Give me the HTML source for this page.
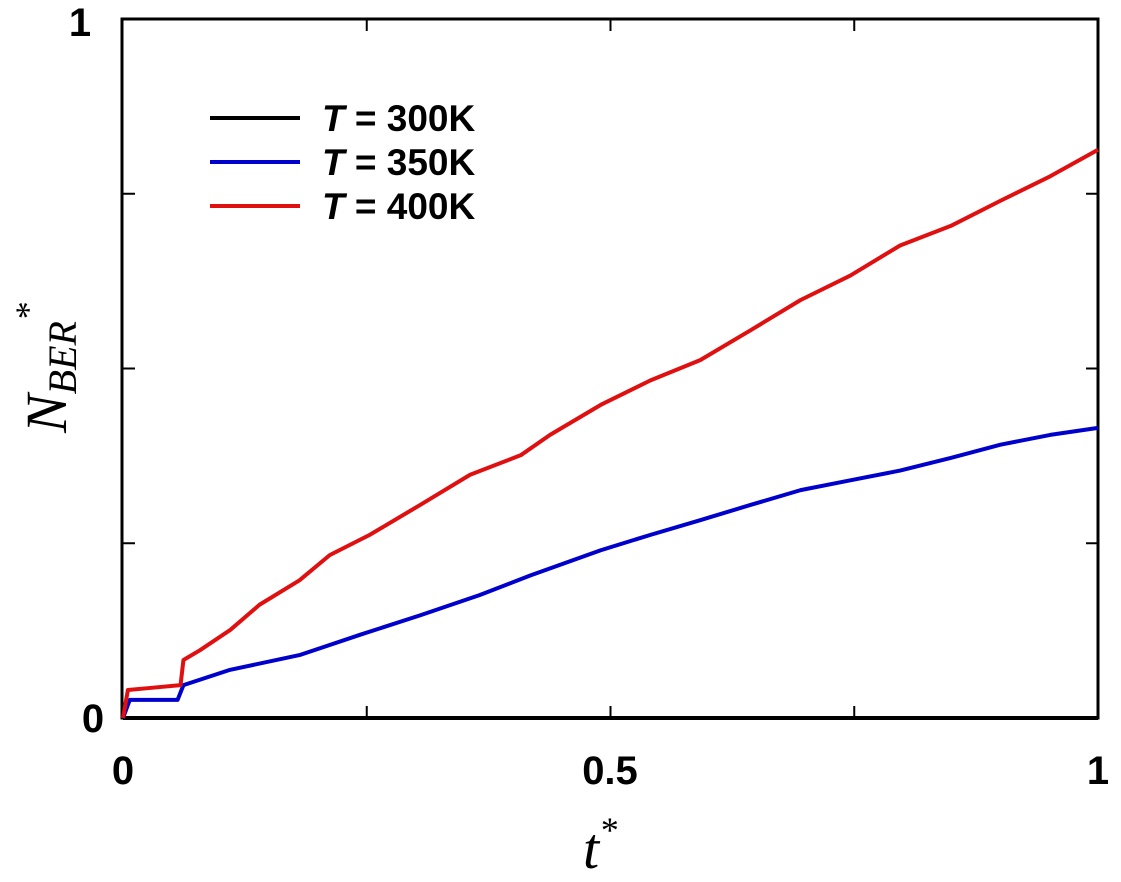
<!DOCTYPE html>
<html><head><meta charset="utf-8"><style>
html,body{margin:0;padding:0;background:#fff;}
svg{display:block;}
.tk{font-family:"Liberation Sans",sans-serif;font-weight:bold;font-size:40px;fill:#000;}
.lg{font-family:"Liberation Sans",sans-serif;font-weight:bold;font-size:37px;fill:#000;}
</style></head><body>
<svg id="chart" width="1121" height="882" viewBox="0 0 1121 882">
<rect x="122" y="19" width="976" height="699" fill="none" stroke="#000" stroke-width="3"/>
<g id="ticks"></g>
<g id="series"></g>
<text class="tk" x="80" y="36" text-anchor="middle">1</text>
<text class="tk" x="93" y="732" text-anchor="middle">0</text>
<text class="tk" x="123" y="784" text-anchor="middle">0</text>
<text class="tk" x="610" y="784" text-anchor="middle">0.5</text>
<text class="tk" x="1098" y="784" text-anchor="middle">1</text>
<text x="600" y="868" text-anchor="middle" font-family="Liberation Serif,serif" font-style="italic" font-size="58">t<tspan dy="-26" font-size="36">*</tspan></text>
<text transform="translate(66,368) rotate(-90)" text-anchor="middle" font-family="Liberation Serif,serif" font-style="italic" font-size="58">N<tspan dy="10" font-size="40">BER</tspan><tspan dy="-36" font-size="36">*</tspan></text>
<g>
<line x1="210" y1="118" x2="300" y2="118" stroke="#000" stroke-width="4"/>
<text class="lg" x="322" y="131"><tspan font-style="italic">T</tspan> = 300K</text>
<line x1="210" y1="162" x2="300" y2="162" stroke="#0000cc" stroke-width="4"/>
<text class="lg" x="322" y="175"><tspan font-style="italic">T</tspan> = 350K</text>
<line x1="210" y1="206" x2="300" y2="206" stroke="#e01010" stroke-width="4"/>
<text class="lg" x="322" y="219"><tspan font-style="italic">T</tspan> = 400K</text>
</g>
</svg>
<script>
const blackX=[0,1];
const blackY=[0,0];
const blueX=[0,.007,.056,.062,.110,.181,.243,.305,.366,.418,.490,.541,.592,.644,.695,.746,.797,.849,.900,.951,1];
const blueY=[0,.026,.026,.047,.069,.090,.119,.147,.176,.204,.240,.262,.283,.305,.326,.340,.354,.372,.391,.405,.415];
const redX=[0,.005,.028,.059,.062,.079,.110,.140,.181,.212,.253,.305,.356,.408,.438,.490,.541,.592,.644,.695,.746,.797,.849,.900,.951,1];
const redY=[0,.040,.043,.047,.083,.097,.126,.162,.197,.233,.262,.305,.348,.376,.405,.448,.483,.512,.555,.598,.633,.676,.704,.740,.775,.813];
const xTicks=[0.25,0.5,0.75];
const yTicks=[0.25,0.5,0.75];
const X0=123,X1=1098,Y0=718,Y1=19;
const sx=v=>X0+v*(X1-X0), sy=v=>Y0-v*(Y0-Y1);
const NS="http://www.w3.org/2000/svg";
const tg=document.getElementById('ticks');
xTicks.forEach(t=>{[[Y0,Y0-12],[Y1,Y1+12]].forEach(p=>{const l=document.createElementNS(NS,'line');
l.setAttribute('x1',sx(t));l.setAttribute('x2',sx(t));l.setAttribute('y1',p[0]);l.setAttribute('y2',p[1]);
l.setAttribute('stroke','#000');l.setAttribute('stroke-width','2');


tg.appendChild(l);});});
yTicks.forEach(t=>{[[X0,X0+12],[X1,X1-12]].forEach(p=>{const l=document.createElementNS(NS,'line');
l.setAttribute('y1',sy(t));l.setAttribute('y2',sy(t));l.setAttribute('x1',p[0]);l.setAttribute('x2',p[1]);
l.setAttribute('stroke','#000');l.setAttribute('stroke-width','2');


tg.appendChild(l);});});
const sg=document.getElementById('series');
function draw(xs,ys,color,name){
 let d='M'+sx(xs[0])+','+sy(ys[0]);
 for(let i=1;i<xs.length;i++){d+=' L'+sx(xs[i])+','+sy(ys[i]);}
 const p=document.createElementNS(NS,'path');
 p.setAttribute('d',d);p.setAttribute('fill','none');p.setAttribute('stroke',color);p.setAttribute('stroke-width','4');
 p.setAttribute('stroke-linejoin','round');
 
 
 sg.appendChild(p);
}
draw(blackX,blackY,'#000','series-300k');
draw(blueX,blueY,'#0000cc','series-350k');
draw(redX,redY,'#e01010','series-400k');
</script>
</body></html>
